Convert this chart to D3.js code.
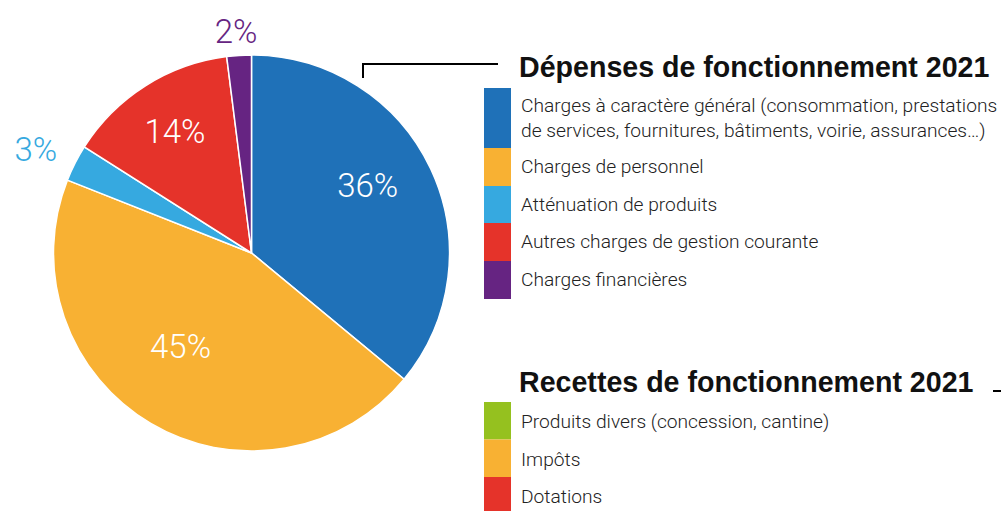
<!DOCTYPE html>
<html>
<head>
<meta charset="utf-8">
<script src="https://cdn.jsdelivr.net/npm/d3@7"></script>
<style>
body { margin:0; background:#fff; }
text { font-family: Roboto, "Liberation Sans", sans-serif; }
</style>
</head>
<body>
<div id="chart"></div>
<script>
// dépenses
const depLabels = [
  ['Charges à caractère général (consommation, prestations', 'de services, fournitures, bâtiments, voirie, assurances…)'],
  ['Charges de personnel'],
  ['Atténuation de produits'],
  ['Autres charges de gestion courante'],
  ['Charges financières']
];
const depValues = [36, 45, 3, 14, 2];
const depColors = ['#1f71b8', '#f8b133', '#36a9e0', '#e5332a', '#662482'];
const depLabelInside = [true, true, false, true, false];

// recettes
const recLabels = ['Produits divers (concession, cantine)', 'Impôts', 'Dotations'];
const recColors = ['#95c11f', '#f8b133', '#e5332a'];

const width = 1001, height = 511;
const cx = 251.5, cy = 253, radius = 198;
// label placement: radius factor and angle nudge (deg) per slice
const labelR = [0.68, 0.59, 1.21, 0.727, 1.124];
const labelNudge = [-5.2, 6.8, -1.2, 0.3, -0.4];

const svg = d3.select('#chart')
    .append('svg')
    .attr('width', width)
    .attr('height', height);

let pie = d3.pie().sort(null).value(d => d);
let arcs = pie(depValues);
let arc = d3.arc().innerRadius(0).outerRadius(radius);

let g = svg.append('g').attr('transform', 'translate(' + cx + ',' + cy + ')');

g.selectAll('path')
    .data(arcs)
    .enter()
    .append('path')
    .attr('d', arc)
    .style('fill', (d, i) => depColors[i])
    .style('stroke', '#fff')
    .style('stroke-width', 1.5);

g.selectAll('text.pct')
    .data(arcs)
    .enter()
    .append('text')
    .attr('class', 'pct')
    .attr('transform', (d, i) => {
        let a = (d.startAngle + d.endAngle) / 2 + labelNudge[i] * Math.PI / 180;
        let p = d3.pointRadial(a, radius * labelR[i]);
        return 'translate(' + p + ')';
    })
    .attr('dy', '0.36em')
    .style('text-anchor', 'middle')
    .style('font-size', '33px')
    .style('font-weight', 300)
    .style('fill', (d, i) => depLabelInside[i] ? '#fff' : depColors[i])
    .text(d => d.value + '%');

// bracket line
svg.append('path')
    .attr('d', 'M363,78 V64 H498')
    .style('fill', 'none')
    .style('stroke', '#000')
    .style('stroke-width', 2);

svg.append('text')
    .attr('x', 519)
    .attr('y', 77)
    .style('font-family', '"Liberation Sans", Arial, sans-serif')
    .style('font-size', '28.6px')
    .style('font-weight', 'bold')
    .style('fill', '#111')
    .text('Dépenses de fonctionnement 2021');

// legend dépenses
let swX = 484, swW = 27;
let rowH = [60, 38, 37, 38, 38];
let y0 = 88;
depLabels.forEach((lines, i) => {
    svg.append('rect')
        .attr('x', swX).attr('y', y0)
        .attr('width', swW).attr('height', rowH[i])
        .style('fill', depColors[i]);
    let t = svg.append('text')
        .attr('x', 521)
        .attr('y', y0 + (lines.length > 1 ? 24 : 25))
        .style('font-size', '19.2px')
        .style('font-weight', 300)
        .style('fill', '#222');
    lines.forEach((l, j) => {
        t.append('tspan').attr('x', 521).attr('dy', j ? 25 : 0).text(l);
    });
    y0 += rowH[i];
});

svg.append('text')
    .attr('x', 519)
    .attr('y', 391.5)
    .style('font-family', '"Liberation Sans", Arial, sans-serif')
    .style('font-size', '28.6px')
    .style('font-weight', 'bold')
    .style('fill', '#111')
    .text('Recettes de fonctionnement 2021');

svg.append('line')
    .attr('x1', 993).attr('x2', 1001)
    .attr('y1', 391).attr('y2', 391)
    .style('stroke', '#000')
    .style('stroke-width', 2);

let y1 = 402;
recLabels.forEach((l, i) => {
    svg.append('rect')
        .attr('x', swX).attr('y', y1)
        .attr('width', swW).attr('height', 37.5)
        .style('fill', recColors[i]);
    svg.append('text')
        .attr('x', 521)
        .attr('y', y1 + 26)
        .style('font-size', '19.2px')
        .style('font-weight', 300)
        .style('fill', '#222')
        .text(l);
    y1 += 37.5;
});
</script>
</body>
</html>
